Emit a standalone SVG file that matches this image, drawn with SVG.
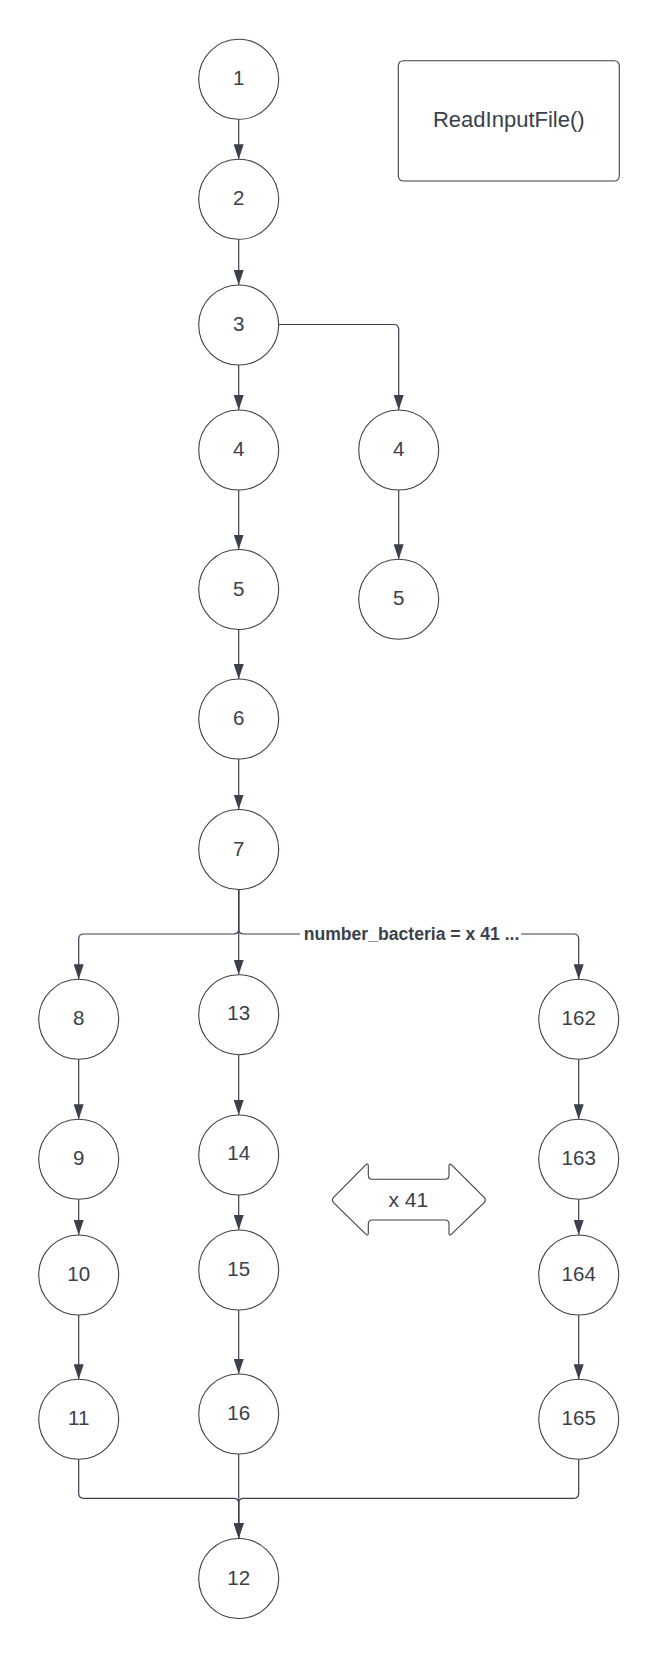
<svg xmlns="http://www.w3.org/2000/svg" width="660" height="1660" viewBox="0 0 660 1660">
  <style>
    .node circle { fill: #ffffff; stroke: #3a414a; stroke-width: 1.1; }
    .node text { font-family: "Liberation Sans", Arial, sans-serif; font-size: 20.5px; fill: #3a414a; text-anchor: middle; dominant-baseline: central; }
    .box rect { fill: #ffffff; stroke: #3a414a; stroke-width: 1.1; }
    .box text { font-family: "Liberation Sans", Arial, sans-serif; font-size: 22px; fill: #3a414a; text-anchor: middle; dominant-baseline: central; }
    .edges path { fill: none; stroke: #3a414a; stroke-width: 1.2; }
    .edges .arrow { marker-end: url(#head); }
    .edge-label { font-family: "Liberation Sans", Arial, sans-serif; font-size: 17.6px; font-weight: bold; fill: #3a414a; text-anchor: middle; dominant-baseline: central; }
    .shape path { fill: #ffffff; stroke: #3a414a; stroke-width: 1.1; }
    .shape text { font-family: "Liberation Sans", Arial, sans-serif; font-size: 21px; fill: #3a414a; text-anchor: middle; dominant-baseline: central; }
  </style>
  <defs>
    <marker id="head" markerUnits="userSpaceOnUse" viewBox="0 0 15 10" refX="15" refY="5" markerWidth="15" markerHeight="10" orient="auto">
      <path d="M0,0 L15,5 L0,10 Z" fill="#3a414a"/>
    </marker>
  </defs>

  <rect width="660" height="1660" fill="#ffffff"/>

  <!-- connectors -->
  <g id="connectors" class="edges">
    <path class="arrow" d="M238.7,119.3 V159.3"/>
    <path class="arrow" d="M238.7,239.3 V285"/>
    <path class="arrow" d="M238.7,365 V410"/>
    <path class="arrow" d="M279,324.5 H393.7 Q398.7,324.5 398.7,329.5 V410"/>
    <path class="arrow" d="M238.7,490 V549.5"/>
    <path class="arrow" d="M398.7,490 V559.3"/>
    <path class="arrow" d="M238.7,629.5 V679"/>
    <path class="arrow" d="M238.7,759 V809.5"/>

    <!-- fan-out from 7 -->
    <path class="arrow" d="M238.7,889.5 V929 Q238.7,934 233.7,934 H83.7 Q78.7,934 78.7,939 V979.3"/>
    <path class="arrow" d="M238.7,889.5 V974.7"/>
    <path d="M238.7,889.5 V929 Q238.7,934 243.7,934 H300"/>
    <path class="arrow" d="M521,934 H573.7 Q578.7,934 578.7,939 V979.3"/>
    <text class="edge-label" x="411.5" y="934">number_bacteria = x 41 ...</text>

    <!-- column 8-11 -->
    <path class="arrow" d="M78.7,1059.3 V1119.3"/>
    <path class="arrow" d="M78.7,1199.3 V1235"/>
    <path class="arrow" d="M78.7,1315 V1379.3"/>
    <!-- column 13-16 -->
    <path class="arrow" d="M238.7,1054.7 V1115"/>
    <path class="arrow" d="M238.7,1195 V1230"/>
    <path class="arrow" d="M238.7,1310 V1374"/>
    <!-- column 162-165 -->
    <path class="arrow" d="M578.7,1059.3 V1119.3"/>
    <path class="arrow" d="M578.7,1199.3 V1235"/>
    <path class="arrow" d="M578.7,1315 V1379.3"/>

    <!-- merge into 12 -->
    <path class="arrow" d="M78.7,1459.3 V1493.3 Q78.7,1498.3 83.7,1498.3 H233.7 Q238.7,1498.3 238.7,1503.3 V1538"/>
    <path class="arrow" d="M238.7,1454 V1538"/>
    <path class="arrow" d="M578.7,1459.3 V1493.3 Q578.7,1498.3 573.7,1498.3 H243.7 Q238.7,1498.3 238.7,1503.3 V1538"/>
  </g>

  <!-- function box -->
  <g id="read-input-file" class="box">
    <rect x="398.3" y="60.7" width="221" height="120.3" rx="5"/>
    <text x="508.8" y="119.5">ReadInputFile()</text>
  </g>

  <!-- nodes -->
  <g id="n1" class="node"><circle cx="238.7" cy="79.3" r="40"/><text x="238.7" y="77.8">1</text></g>
  <g id="n2" class="node"><circle cx="238.7" cy="199.3" r="40"/><text x="238.7" y="197.8">2</text></g>
  <g id="n3" class="node"><circle cx="238.7" cy="325" r="40"/><text x="238.7" y="323.5">3</text></g>
  <g id="n4a" class="node"><circle cx="238.7" cy="450" r="40"/><text x="238.7" y="448.5">4</text></g>
  <g id="n4b" class="node"><circle cx="398.7" cy="450" r="40"/><text x="398.7" y="448.5">4</text></g>
  <g id="n5a" class="node"><circle cx="238.7" cy="589.5" r="40"/><text x="238.7" y="588">5</text></g>
  <g id="n5b" class="node"><circle cx="398.7" cy="599.3" r="40"/><text x="398.7" y="597.8">5</text></g>
  <g id="n6" class="node"><circle cx="238.7" cy="719" r="40"/><text x="238.7" y="717.5">6</text></g>
  <g id="n7" class="node"><circle cx="238.7" cy="849.5" r="40"/><text x="238.7" y="848">7</text></g>

  <g id="n8" class="node"><circle cx="78.7" cy="1019.3" r="40"/><text x="78.7" y="1017.5">8</text></g>
  <g id="n9" class="node"><circle cx="78.7" cy="1159.3" r="40"/><text x="78.7" y="1157.5">9</text></g>
  <g id="n10" class="node"><circle cx="78.7" cy="1275" r="40"/><text x="78.7" y="1273">10</text></g>
  <g id="n11" class="node"><circle cx="78.7" cy="1419.3" r="40"/><text x="78.7" y="1417.3">11</text></g>

  <g id="n13" class="node"><circle cx="238.7" cy="1014.7" r="40"/><text x="238.7" y="1012">13</text></g>
  <g id="n14" class="node"><circle cx="238.7" cy="1155" r="40"/><text x="238.7" y="1152.3">14</text></g>
  <g id="n15" class="node"><circle cx="238.7" cy="1270" r="40"/><text x="238.7" y="1268">15</text></g>
  <g id="n16" class="node"><circle cx="238.7" cy="1414" r="40"/><text x="238.7" y="1412.3">16</text></g>

  <g id="n162" class="node"><circle cx="578.7" cy="1019.3" r="40"/><text x="578.7" y="1017.8">162</text></g>
  <g id="n163" class="node"><circle cx="578.7" cy="1159.3" r="40"/><text x="578.7" y="1157.8">163</text></g>
  <g id="n164" class="node"><circle cx="578.7" cy="1275" r="40"/><text x="578.7" y="1273.3">164</text></g>
  <g id="n165" class="node"><circle cx="578.7" cy="1419.3" r="40"/><text x="578.7" y="1417.6">165</text></g>

  <g id="n12" class="node"><circle cx="238.7" cy="1578.5" r="40"/><text x="238.7" y="1577">12</text></g>

  <!-- repetition marker between columns -->
  <g id="repeat-x41" class="shape">
    <path d="M333.8,1197.2 L365.5,1165.1 Q368.3,1162.3 368.3,1166.3 L368.3,1175.3 Q368.3,1179.3 372.3,1179.3 L445,1179.3 Q449,1179.3 449,1175.3 L449,1166.3 Q449,1162.3 451.8,1165.1 L483.9,1197.2 Q486.7,1200 483.9,1202.8 L451.8,1233.9 Q449,1236.7 449,1232.7 L449,1224 Q449,1220 445,1220 L372.3,1220 Q368.3,1220 368.3,1224 L368.3,1232.7 Q368.3,1236.7 365.5,1233.9 L333.8,1202.8 Q331,1200 333.8,1197.2 Z"/>
    <text x="408.3" y="1199">x 41</text>
  </g>
</svg>
